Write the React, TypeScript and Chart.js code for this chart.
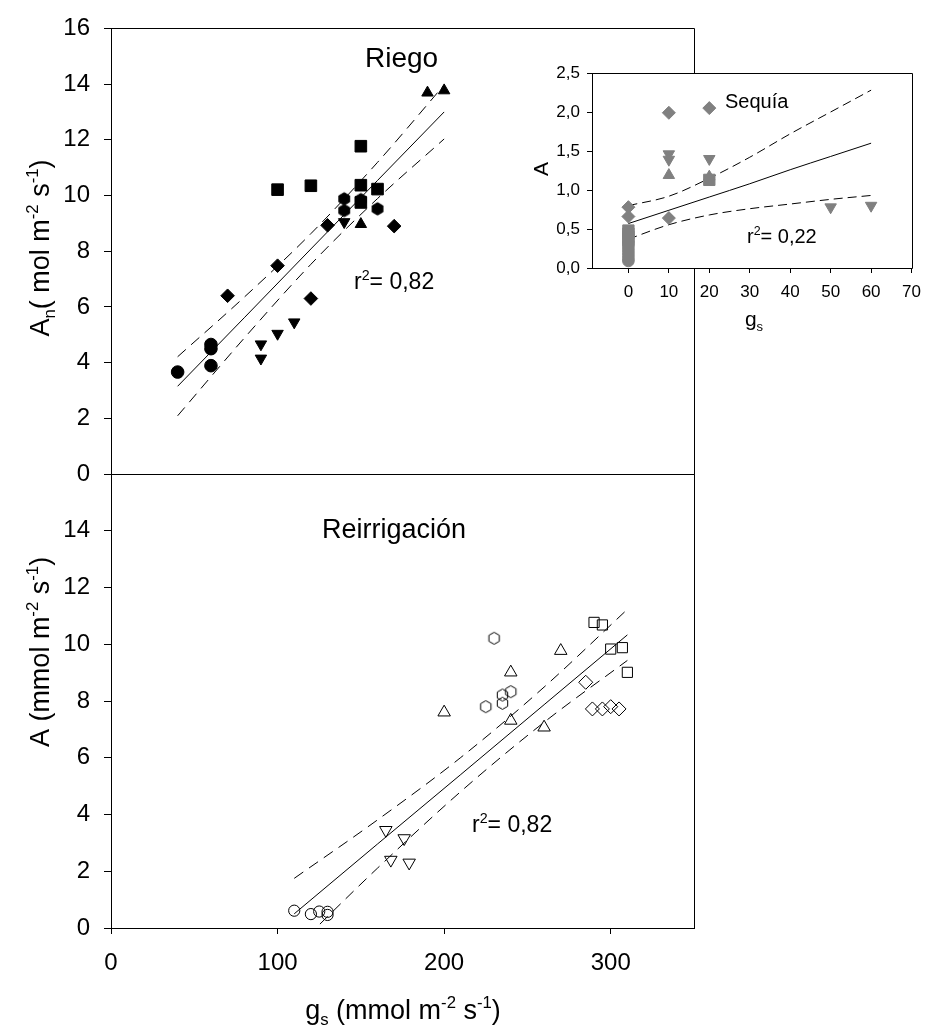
import React, { useEffect, useRef } from 'react';
import { Chart, registerables } from 'chart.js';

Chart.register(...registerables);

const FONT = "'Liberation Sans', Arial, Helvetica, sans-serif";
Chart.defaults.font.family = FONT;
Chart.defaults.color = '#000';

// ---------- Riego (top panel) ----------
const riegoCircleX = [40, 60, 60, 60];
const riegoCircleY = [3.66, 4.65, 4.5, 3.89];
const riegoHexX = [140, 140, 150, 160];
const riegoHexY = [9.88, 9.46, 9.85, 9.52];
const riegoSquareX = [100, 120, 150, 150, 160, 150];
const riegoSquareY = [10.21, 10.35, 11.77, 10.37, 10.23, 9.75];
const riegoDiamondX = [70, 100, 120, 130, 170];
const riegoDiamondY = [6.4, 7.48, 6.3, 8.93, 8.9];
const riegoDownX = [90, 90, 100, 110, 140];
const riegoDownY = [4.66, 4.15, 5.04, 5.45, 9.05];
const riegoUpX = [150, 190, 200];
const riegoUpY = [8.97, 13.69, 13.77];
const riegoFitX = [40, 80, 120, 160, 200];
const riegoFitY = [3.15, 5.61, 8.08, 10.54, 13.0];
const riegoUpperY = [4.21, 6.35, 8.63, 11.19, 13.97];
const riegoLowerY = [2.09, 4.88, 7.53, 9.89, 12.03];

// ---------- Reirrigación (bottom panel) ----------
const reiCircleX = [110, 120, 125, 130, 130];
const reiCircleY = [0.61, 0.49, 0.58, 0.57, 0.46];
const reiHexX = [230, 225, 235, 235, 240];
const reiHexY = [10.21, 7.8, 8.21, 7.92, 8.33];
const reiSquareX = [290, 295, 300, 307, 310];
const reiSquareY = [10.77, 10.68, 9.83, 9.88, 9.01];
const reiDiamondX = [285, 289, 295, 300, 305];
const reiDiamondY = [8.66, 7.72, 7.72, 7.8, 7.72];
const reiUpX = [200, 240, 240, 270, 260];
const reiUpY = [7.6, 9.01, 7.31, 9.77, 7.07];
const reiDownX = [165, 176, 168, 179];
const reiDownY = [3.45, 3.16, 2.4, 2.3];
const reiFitX = [110, 160, 210, 260, 310];
const reiFitY = [0.5, 2.96, 5.41, 7.87, 10.33];
const reiUpperY = [1.75, 3.81, 6.01, 8.49, 11.23];
const reiLowerY = [-0.75, 2.11, 4.81, 7.25, 9.43];

// ---------- Sequía (inset) ----------
const seqDiamondX = [0, 0, 10, 10, 20];
const seqDiamondY = [0.78, 0.66, 1.99, 0.64, 2.05];
const seqDownX = [10, 10, 20, 50, 60];
const seqDownY = [1.46, 1.39, 1.4, 0.78, 0.8];
const seqUpX = [10, 20];
const seqUpY = [1.19, 1.17];
const seqSquareX = [0, 0, 0, 0, 20];
const seqSquareY = [0.48, 0.44, 0.4, 0.36, 1.13];
const seqCircleX = [0, 0, 0, 0, 0, 0, 0];
const seqCircleY = [0.32, 0.28, 0.24, 0.2, 0.16, 0.12, 0.09];
const seqFitX = [0, 10, 20, 30, 40, 50, 60];
const seqFitY = [0.57, 0.74, 0.91, 1.08, 1.26, 1.43, 1.6];
const seqUpperY = [0.8, 0.92, 1.15, 1.42, 1.72, 2.0, 2.28];
const seqLowerY = [0.37, 0.555, 0.68, 0.76, 0.82, 0.88, 0.93];

// tick labels
const mainXTicks = [0, 100, 200, 300];
const insetXTicks = [0, 10, 20, 30, 40, 50, 60, 70];

type Part = { t: string; sup?: boolean; sub?: boolean };

function drawParts(
  ctx: CanvasRenderingContext2D,
  parts: Part[],
  x: number,
  y: number,
  size: number,
  align: 'left' | 'center'
) {
  const small = size * 0.62;
  const widths: number[] = [];
  let total = 0;
  for (const p of parts) {
    ctx.font = `${p.sup || p.sub ? small : size}px ${FONT}`;
    const w = ctx.measureText(p.t).width;
    widths.push(w);
    total += w;
  }
  let cx = align === 'center' ? x - total / 2 : x;
  ctx.textAlign = 'left';
  ctx.textBaseline = 'alphabetic';
  ctx.fillStyle = '#000';
  parts.forEach((p, i) => {
    ctx.font = `${p.sup || p.sub ? small : size}px ${FONT}`;
    const dy = p.sup ? -size * 0.4 : p.sub ? size * 0.22 : 0;
    ctx.fillText(p.t, cx, y + dy);
    cx += widths[i];
  });
}

function drawRotated(ctx: CanvasRenderingContext2D, parts: Part[], cx: number, cy: number, size: number) {
  ctx.save();
  ctx.translate(cx, cy);
  ctx.rotate(-Math.PI / 2);
  drawParts(ctx, parts, 0, size * 0.36, size, 'center');
  ctx.restore();
}

function makeHex(r: number, fill: string | null, stroke: string) {
  const c = document.createElement('canvas');
  const s = Math.ceil(r * 2 + 3);
  c.width = s;
  c.height = s;
  const ctx = c.getContext('2d')!;
  ctx.beginPath();
  for (let i = 0; i < 6; i++) {
    const a = -Math.PI / 2 + (i * Math.PI) / 3;
    const px = s / 2 + r * Math.cos(a);
    const py = s / 2 + r * Math.sin(a);
    if (i === 0) ctx.moveTo(px, py);
    else ctx.lineTo(px, py);
  }
  ctx.closePath();
  if (fill) {
    ctx.fillStyle = fill;
    ctx.fill();
  }
  ctx.strokeStyle = stroke;
  ctx.lineWidth = 1;
  ctx.stroke();
  return c;
}

const pts = (xs: number[], ys: number[]) => xs.map((x, i) => ({ x, y: ys[i] }));

function markerDS(xs: number[], ys: number[], style: any, radius: number, color: string, filled: boolean, rotation = 0) {
  return {
    data: pts(xs, ys),
    pointStyle: style,
    pointRadius: radius,
    pointHoverRadius: radius,
    pointBackgroundColor: filled ? color : 'rgba(0,0,0,0)',
    pointBorderColor: color,
    pointBorderWidth: 1,
    pointRotation: rotation,
    showLine: false,
    clip: false,
  };
}

function lineDS(xs: number[], ys: number[], dash: number[]) {
  return {
    data: pts(xs, ys),
    showLine: true,
    pointRadius: 0,
    pointHoverRadius: 0,
    borderColor: '#000',
    borderWidth: 1,
    borderDash: dash,
    fill: false,
    cubicInterpolationMode: 'monotone',
  };
}

function yAxis(min: number, max: number, step: number, size: number, width: number, tickLen: number, pad: number, cb?: (v: any) => string) {
  const ticks: any = { stepSize: step, font: { size, family: FONT }, color: '#000', padding: pad };
  if (cb) ticks.callback = cb;
  return {
    type: 'linear',
    min,
    max,
    ticks,
    grid: { drawOnChartArea: false, drawTicks: true, tickLength: tickLen, color: '#000', lineWidth: 1 },
    border: { display: true, color: '#000', width: 1 },
    afterFit: (s: any) => {
      s.width = width;
    },
  };
}

function xAxis(min: number, max: number, tickVals: number[], size: number, height: number, tickLen: number, pad: number) {
  return {
    type: 'linear',
    min,
    max,
    afterBuildTicks: (s: any) => {
      s.ticks = tickVals.map((v) => ({ value: v }));
    },
    ticks: { font: { size, family: FONT }, color: '#000', padding: pad, autoSkip: false, maxRotation: 0 },
    grid: { drawOnChartArea: false, drawTicks: true, tickLength: tickLen, color: '#000', lineWidth: 1 },
    border: { display: true, color: '#000', width: 1 },
    afterFit: (s: any) => {
      s.height = height;
    },
  };
}

function framePlugin(id: string, whiteBg: boolean) {
  return {
    id,
    beforeDraw(chart: any) {
      if (!whiteBg) return;
      const { left, top, right, bottom } = chart.chartArea;
      const ctx = chart.ctx;
      ctx.save();
      ctx.fillStyle = '#fff';
      ctx.fillRect(left, top, right - left, bottom - top);
      ctx.restore();
    },
    afterDraw(chart: any) {
      const { left, top, right, bottom } = chart.chartArea;
      const ctx = chart.ctx;
      ctx.save();
      ctx.strokeStyle = '#000';
      ctx.lineWidth = 1;
      const l = Math.round(left) + 0.5;
      const t = Math.round(top) + 0.5;
      const r = Math.round(right) + 0.5;
      const b = Math.round(bottom) + 0.5;
      ctx.beginPath();
      ctx.moveTo(l, b);
      ctx.lineTo(l, t);
      ctx.lineTo(r, t);
      ctx.lineTo(r, b);
      ctx.lineTo(l, b);
      ctx.stroke();
      ctx.restore();
    },
  };
}

function textPlugin(id: string, draw: (ctx: CanvasRenderingContext2D) => void) {
  return {
    id,
    afterDraw(chart: any) {
      const ctx = chart.ctx as CanvasRenderingContext2D;
      ctx.save();
      draw(ctx);
      ctx.restore();
    },
  };
}

const baseOptions = {
  animation: false,
  responsive: false,
  devicePixelRatio: 1,
  events: [],
};

export default function App() {
  const topRef = useRef<HTMLCanvasElement>(null);
  const botRef = useRef<HTMLCanvasElement>(null);
  const insRef = useRef<HTMLCanvasElement>(null);

  useEffect(() => {
    const hexFilled = makeHex(6.2, '#000', '#000');
    const hexOpen = makeHex(6, null, '#000');
    const charts: Chart[] = [];

    // ---- top: Riego ----
    charts.push(
      new Chart(topRef.current!, {
        type: 'scatter',
        data: {
          datasets: [
            markerDS(riegoCircleX, riegoCircleY, 'circle', 6.3, '#000', true),
            markerDS(riegoHexX, riegoHexY, hexFilled, 6, '#000', true),
            markerDS(riegoSquareX, riegoSquareY, 'rect', 8.2, '#000', true),
            markerDS(riegoDiamondX, riegoDiamondY, 'rectRot', 6.8, '#000', true),
            markerDS(riegoDownX, riegoDownY, 'triangle', 6.6, '#000', true, 180),
            markerDS(riegoUpX, riegoUpY, 'triangle', 6.6, '#000', true),
            lineDS(riegoFitX, riegoFitY, []),
            lineDS(riegoFitX, riegoUpperY, [11, 7]),
            lineDS(riegoFitX, riegoLowerY, [11, 7]),
          ] as any,
        },
        options: {
          ...baseOptions,
          layout: { padding: { left: 0, right: 236, top: 22, bottom: 560 } },
          plugins: { legend: { display: false }, tooltip: { enabled: false } },
          scales: {
            x: { type: 'linear', min: 0, max: 350, display: false },
            y: yAxis(0, 16, 2, 24, 111, 7, 14),
          },
        } as any,
        plugins: [
          framePlugin('frameTop', false),
          textPlugin('textTop', (ctx) => {
            drawParts(ctx, [{ t: 'Riego' }], 365, 67, 28, 'left');
            drawParts(ctx, [{ t: 'r' }, { t: '2', sup: true }, { t: '= 0,82' }], 354, 289, 23, 'left');
            drawRotated(
              ctx,
              [{ t: 'A' }, { t: 'n', sub: true }, { t: '( mol m' }, { t: '-2', sup: true }, { t: ' s' }, { t: '-1', sup: true }, { t: ')' }],
              39,
              248,
              27
            );
          }),
        ] as any,
      })
    );

    // ---- bottom: Reirrigación ----
    charts.push(
      new Chart(botRef.current!, {
        type: 'scatter',
        data: {
          datasets: [
            markerDS(reiCircleX, reiCircleY, 'circle', 5.6, '#000', false),
            markerDS(reiHexX, reiHexY, hexOpen, 6, '#000', false),
            markerDS(reiSquareX, reiSquareY, 'rect', 7.2, '#000', false),
            markerDS(reiDiamondX, reiDiamondY, 'rectRot', 7, '#000', false),
            markerDS(reiUpX, reiUpY, 'triangle', 7.2, '#000', false),
            markerDS(reiDownX, reiDownY, 'triangle', 7.2, '#000', false, 180),
            lineDS(reiFitX, reiFitY, []),
            lineDS(reiFitX, reiUpperY, [11, 7]),
            lineDS(reiFitX, reiLowerY, [11, 7]),
          ] as any,
        },
        options: {
          ...baseOptions,
          layout: { padding: { left: 0, right: 236, top: 474, bottom: 0 } },
          plugins: { legend: { display: false }, tooltip: { enabled: false } },
          scales: {
            x: xAxis(0, 350, mainXTicks, 24, 106, 6, 15),
            y: yAxis(0, 16, 2, 24, 111, 7, 14, (v: any) => (Number(v) === 16 ? '' : String(v))),
          },
        } as any,
        plugins: [
          framePlugin('frameBot', false),
          textPlugin('textBot', (ctx) => {
            drawParts(ctx, [{ t: 'Reirrigación' }], 322, 538, 27, 'left');
            drawParts(ctx, [{ t: 'r' }, { t: '2', sup: true }, { t: '= 0,82' }], 472, 832, 23, 'left');
            drawRotated(
              ctx,
              [{ t: 'A (mmol m' }, { t: '-2', sup: true }, { t: ' s' }, { t: '-1', sup: true }, { t: ')' }],
              39,
              652,
              27
            );
            drawParts(
              ctx,
              [{ t: 'g' }, { t: 's', sub: true }, { t: ' (mmol m' }, { t: '-2', sup: true }, { t: ' s' }, { t: '-1', sup: true }, { t: ')' }],
              403,
              1019,
              27,
              'center'
            );
          }),
        ] as any,
      })
    );

    // ---- inset: Sequía ----
    const gray = '#808080';
    charts.push(
      new Chart(insRef.current!, {
        type: 'scatter',
        data: {
          datasets: [
            markerDS(seqDiamondX, seqDiamondY, 'rectRot', 6.5, gray, true),
            markerDS(seqDownX, seqDownY, 'triangle', 6.6, gray, true, 180),
            markerDS(seqUpX, seqUpY, 'triangle', 6.6, gray, true),
            markerDS(seqSquareX, seqSquareY, 'rect', 8, gray, true),
            markerDS(seqCircleX, seqCircleY, 'circle', 5.8, gray, true),
            lineDS(seqFitX, seqFitY, []),
            lineDS(seqFitX, seqUpperY, [9, 5]),
            lineDS(seqFitX, seqLowerY, [9, 5]),
          ] as any,
        },
        options: {
          ...baseOptions,
          layout: { padding: { left: 0, right: 13, top: 73, bottom: 0 } },
          plugins: { legend: { display: false }, tooltip: { enabled: false } },
          scales: {
            x: xAxis(-9, 70, insetXTicks, 17, 766, 5, 9),
            y: yAxis(0, 2.5, 0.5, 17, 592, 5, 7, (v: any) => Number(v).toFixed(1).replace('.', ',')),
          },
        } as any,
        plugins: [
          framePlugin('frameIns', true),
          textPlugin('textIns', (ctx) => {
            drawParts(ctx, [{ t: 'Sequía' }], 725, 108, 20, 'left');
            drawParts(ctx, [{ t: 'r' }, { t: '2', sup: true }, { t: '= 0,22' }], 747, 243, 20, 'left');
            drawRotated(ctx, [{ t: 'A' }], 540, 169, 21);
            drawParts(ctx, [{ t: 'g' }, { t: 's', sub: true }], 754, 326, 21, 'center');
          }),
        ] as any,
      })
    );

    return () => {
      charts.forEach((c) => c.destroy());
    };
  }, []);

  const cv: React.CSSProperties = { position: 'absolute', left: 0, top: 0, width: 930, height: 1034 };
  return (
    <div style={{ position: 'absolute', left: 0, top: 0, width: 930, height: 1034, background: '#fff' }}>
      <canvas ref={topRef} width={930} height={1034} style={cv} />
      <canvas ref={botRef} width={930} height={1034} style={cv} />
      <canvas ref={insRef} width={930} height={1034} style={cv} />
    </div>
  );
}
